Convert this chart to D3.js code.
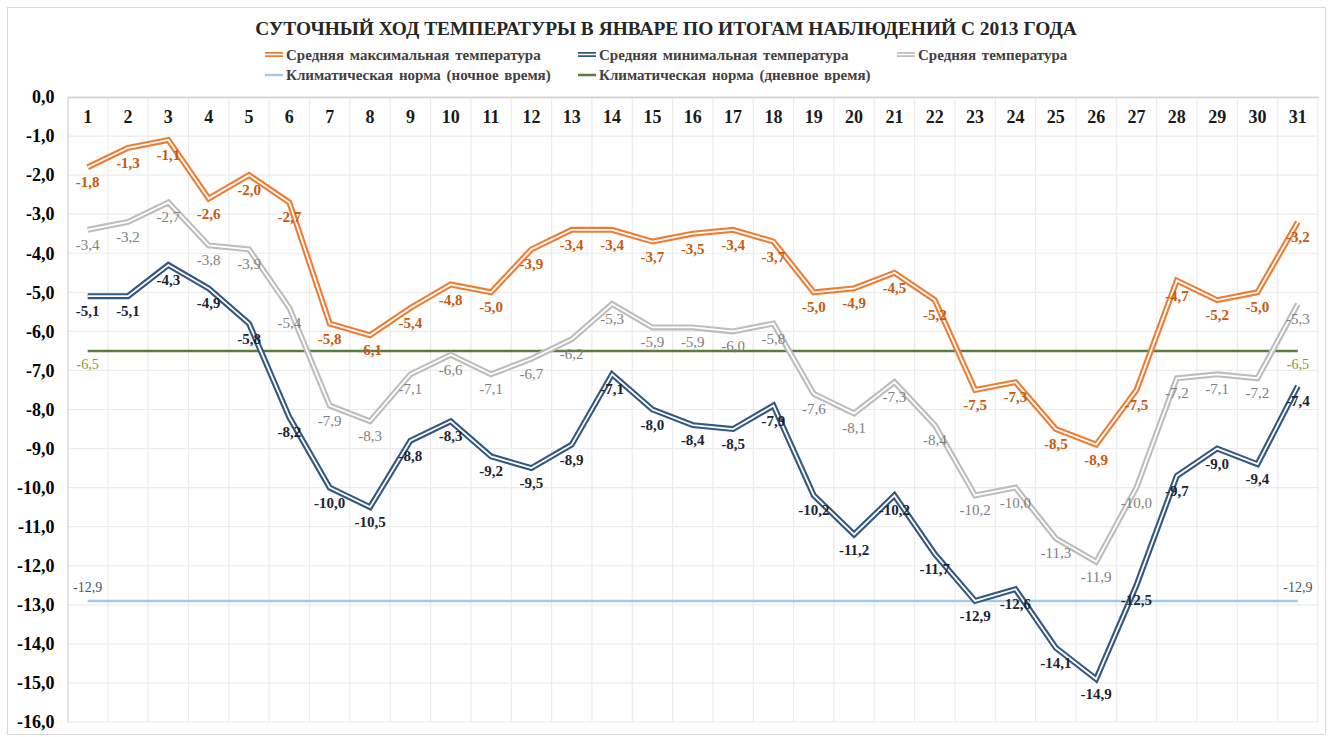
<!DOCTYPE html>
<html>
<head>
<meta charset="utf-8">
<script src="https://cdn.jsdelivr.net/npm/d3@7"></script>
<style>
    body { margin: 0; background: #fff; }
    text { font-family: "Times New Roman", "Liberation Serif", serif; }
</style>
</head>
<body>
<div class="container"></div>
<script>
//chart data
var titleText = "СУТОЧНЫЙ ХОД ТЕМПЕРАТУРЫ В ЯНВАРЕ ПО ИТОГАМ НАБЛЮДЕНИЙ С 2013 ГОДА";
var days = [1, 2, 3, 4, 5, 6, 7, 8, 9, 10, 11, 12, 13, 14, 15, 16, 17, 18, 19, 20, 21, 22, 23, 24, 25, 26, 27, 28, 29, 30, 31];
var maxTemp = [-1.8, -1.3, -1.1, -2.6, -2.0, -2.7, -5.8, -6.1, -5.4, -4.8, -5.0, -3.9, -3.4, -3.4, -3.7, -3.5,
    -3.4, -3.7, -5.0, -4.9, -4.5, -5.2, -7.5, -7.3, -8.5, -8.9, -7.5, -4.7, -5.2, -5.0, -3.2];
var minTemp = [-5.1, -5.1, -4.3, -4.9, -5.8, -8.2, -10.0, -10.5, -8.8, -8.3, -9.2, -9.5, -8.9, -7.1, -8.0, -8.4,
    -8.5, -7.9, -10.2, -11.2, -10.2, -11.7, -12.9, -12.6, -14.1, -14.9, -12.5, -9.7, -9.0, -9.4, -7.4];
var avgTemp = [-3.4, -3.2, -2.7, -3.8, -3.9, -5.4, -7.9, -8.3, -7.1, -6.6, -7.1, -6.7, -6.2, -5.3, -5.9, -5.9,
    -6.0, -5.8, -7.6, -8.1, -7.3, -8.4, -10.2, -10.0, -11.3, -11.9, -10.0, -7.2, -7.1, -7.2, -5.3];
var normNight = -12.9;
var normDay = -6.5;
var yTicks = [0, -1, -2, -3, -4, -5, -6, -7, -8, -9, -10, -11, -12, -13, -14, -15, -16];
var legendNames = ["Средняя максимальная температура", "Средняя минимальная температура", "Средняя температура",
    "Климатическая норма (ночное время)", "Климатическая норма (дневное время)"];

(function () {

    var svg, x, y;
    var width = 1331,
        height = 737;
    //plot area
    var plot = { left: 67.5, right: 1318, top: 97, bottom: 722 };
    var fmt = function (v) { return d3.format(".1f")(v).replace(".", ",").replace("−", "-"); };

    function setChart() {
        svg = d3.select(".container")
            .append("svg")
            .attr("width", width)
            .attr("height", height);

        //outer frame
        svg.append("rect")
            .attr("x", 7.5).attr("y", 7.5)
            .attr("width", 1318).attr("height", 727)
            .attr("fill", "#fff")
            .attr("stroke", "#d9d9d9");

        x = d3.scaleBand().domain(days).range([plot.left, plot.right]);
        y = d3.scaleLinear().domain([-16, 0]).range([plot.bottom, plot.top]);

        setGrid();
        setAxes();

        //climate norms
        drawNorm(normDay, "#5a7d3e", 13 + 5);
        drawNorm(normNight, "#a9c8e8", -9);

        //series
        drawDoubleLine(maxTemp, "#ee7d33");
        drawDoubleLine(minTemp, "#33587f");
        drawDoubleLine(avgTemp, "#bdbdbd");

        drawLabels(maxTemp, "#c55a11", "bold");
        drawLabels(minTemp, "#1c2433", "bold");
        drawLabels(avgTemp, "#808080", "normal");

        setTitle();
        setLegend();
    }

    function cx(d) {
        return x(d) + x.bandwidth() / 2;
    }

    function setGrid() {
        //horizontal grid lines
        svg.append("g")
            .attr("class", "grid")
            .selectAll("line")
            .data(yTicks)
            .enter()
            .append("line")
            .attr("x1", plot.left).attr("x2", plot.right)
            .attr("y1", function (d) { return y(d); })
            .attr("y2", function (d) { return y(d); })
            .attr("stroke", "#ebebeb")
            .attr("stroke-width", 1.2);

        //vertical grid lines at category edges
        svg.append("g")
            .attr("class", "grid")
            .selectAll("line")
            .data(days.slice(1))
            .enter()
            .append("line")
            .attr("x1", function (d) { return x(d); })
            .attr("x2", function (d) { return x(d); })
            .attr("y1", plot.top).attr("y2", plot.bottom)
            .attr("stroke", "#ebebeb")
            .attr("stroke-width", 1.2);

        //right edge
        svg.append("line")
            .attr("x1", plot.right).attr("x2", plot.right)
            .attr("y1", plot.top).attr("y2", plot.bottom)
            .attr("stroke", "#ebebeb").attr("stroke-width", 1.2);
    }

    function setAxes() {
        var yAxis = d3.axisLeft(y)
            .tickValues(yTicks)
            .tickSize(0)
            .tickPadding(13)
            .tickFormat(fmt);

        var ya = svg.append("g")
            .attr("class", "axis")
            .attr("transform", "translate(" + plot.left + ",0)")
            .call(yAxis);
        ya.select(".domain").attr("stroke", "#d9d9d9").attr("stroke-width", 1.5);
        ya.selectAll("text")
            .attr("font-size", "18px")
            .attr("font-weight", "bold")
            .attr("font-family", "'Times New Roman', 'Liberation Serif', serif")
            .attr("fill", "#000");

        //category axis sits on the 0 line, labels below it
        var xAxis = d3.axisBottom(x)
            .tickSize(0)
            .tickPadding(13);

        var xa = svg.append("g")
            .attr("class", "axis")
            .attr("transform", "translate(0," + plot.top + ")")
            .call(xAxis);
        xa.select(".domain").attr("stroke", "#d0d0d0").attr("stroke-width", 1.5);
        xa.selectAll("text")
            .attr("font-size", "18px")
            .attr("font-weight", "bold")
            .attr("font-family", "'Times New Roman', 'Liberation Serif', serif")
            .attr("fill", "#1a1a1a");
    }

    function drawNorm(value, color, labelDy) {
        var first = days[0],
            last = days[days.length - 1];
        svg.append("line")
            .attr("x1", cx(first)).attr("x2", cx(last))
            .attr("y1", y(value)).attr("y2", y(value))
            .attr("stroke", color)
            .attr("stroke-width", 2.5);

        //labels at both ends
        svg.selectAll(null)
            .data([first, last])
            .enter()
            .append("text")
            .attr("x", function (d) { return cx(d); })
            .attr("y", y(value) + labelDy)
            .attr("text-anchor", "middle")
            .attr("font-size", "14px")
            .attr("fill", value === normDay ? "#7a9a3e" : "#44546a")
            .text(fmt(value));
    }

    function drawDoubleLine(values, color) {
        var line = d3.line()
            .x(function (d, i) { return cx(days[i]); })
            .y(function (d) { return y(d); });

        svg.append("path")
            .datum(values)
            .attr("d", line)
            .attr("fill", "none")
            .attr("stroke", color)
            .attr("stroke-width", 6);

        //white core gives the double stroke look
        svg.append("path")
            .datum(values)
            .attr("d", line)
            .attr("fill", "none")
            .attr("stroke", "#fff")
            .attr("stroke-width", 1.8);
    }

    function drawLabels(values, color, weight) {
        svg.append("g")
            .selectAll("text")
            .data(values)
            .enter()
            .append("text")
            .attr("x", function (d, i) { return cx(days[i]); })
            .attr("y", function (d) { return y(d) + 20; })
            .attr("text-anchor", "middle")
            .attr("font-size", "15px")
            .attr("font-weight", weight)
            .attr("fill", color)
            .text(fmt);
    }

    function setTitle() {
        svg.append("text")
            .attr("x", 666)
            .attr("y", 35)
            .attr("text-anchor", "middle")
            .attr("font-size", "19.4px")
            .attr("font-weight", "bold")
            .attr("fill", "#262626")
            .text(titleText);
    }

    function setLegend() {
        var items = [
            { name: legendNames[0], color: "#ee7d33", dbl: true, x: 265, y: 54.5 },
            { name: legendNames[1], color: "#33587f", dbl: true, x: 578, y: 54.5 },
            { name: legendNames[2], color: "#bdbdbd", dbl: true, x: 897, y: 54.5 },
            { name: legendNames[3], color: "#a9c8e8", dbl: false, x: 265, y: 75 },
            { name: legendNames[4], color: "#5a7d3e", dbl: false, x: 578, y: 75 }
        ];

        var g = svg.append("g").attr("class", "legend")
            .selectAll("g")
            .data(items)
            .enter()
            .append("g")
            .attr("transform", function (d) { return "translate(" + d.x + "," + d.y + ")"; });

        g.append("line")
            .attr("x1", 0).attr("x2", 18)
            .attr("stroke", function (d) { return d.color; })
            .attr("stroke-width", function (d) { return d.dbl ? 5 : 2.5; });

        g.filter(function (d) { return d.dbl; })
            .append("line")
            .attr("x1", 0).attr("x2", 18)
            .attr("stroke", "#fff")
            .attr("stroke-width", 1.5);

        g.append("text")
            .attr("x", 21)
            .attr("y", 5)
            .attr("font-size", "15px")
            .attr("font-weight", "bold")
            .attr("word-spacing", "2px")
            .attr("fill", "#404040")
            .text(function (d) { return d.name; });
    }

    //run it
    window.onload = setChart;

})();
</script>
</body>
</html>
